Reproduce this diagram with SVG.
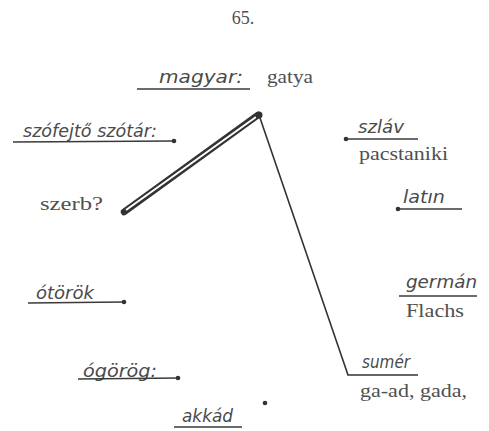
<svg xmlns="http://www.w3.org/2000/svg" width="489" height="431" viewBox="0 0 489 431">
<style>
.lab{font-family:"DejaVu Sans","Liberation Sans",sans-serif;font-style:italic;font-size:17px;fill:#4a4a4a}
.ser{font-family:"Liberation Serif",serif;font-size:18px;fill:#505050}
.ul{stroke:#3a3a3a;stroke-width:1.3;fill:none}
.dot{fill:#333}
</style>
<rect width="489" height="431" fill="#fff"/>
<text class="ser" x="243" y="24" text-anchor="middle" font-size="14">65.</text>
<g id="connectors">
<line x1="258" y1="115" x2="124" y2="212" stroke="#333" stroke-width="6.5" stroke-linecap="round"/>
<line x1="256" y1="117" x2="126" y2="210" stroke="#fff" stroke-width="2"/>
<polyline points="259,115 348,375 418,375" fill="none" stroke="#333" stroke-width="1.6"/>
<circle cx="259" cy="115" r="3.5" class="dot"/>
</g>
<g id="magyar">
<text class="lab" x="159" y="83" textLength="84" lengthAdjust="spacingAndGlyphs">magyar:</text>
<line class="ul" x1="137" y1="89" x2="250" y2="89" stroke-width="2.4"/>
<text class="ser" x="267" y="83" textLength="46" lengthAdjust="spacingAndGlyphs">gatya</text>
</g>
<g id="szofejto">
<text class="lab" x="23" y="137" textLength="134" lengthAdjust="spacingAndGlyphs">szófejtő szótár:</text>
<line class="ul" x1="13" y1="142" x2="174" y2="141"/>
<circle cx="174" cy="141" r="2.3" class="dot"/>
</g>
<g id="szerb">
<text class="ser" x="40" y="210" textLength="63" lengthAdjust="spacingAndGlyphs">szerb?</text>
</g>
<g id="szlav">
<text class="lab" x="358" y="133" textLength="46" lengthAdjust="spacingAndGlyphs">szláv</text>
<line class="ul" x1="346" y1="139" x2="418" y2="139"/>
<circle cx="346" cy="139" r="2.3" class="dot"/>
<text class="ser" x="359" y="160" textLength="89" lengthAdjust="spacingAndGlyphs">pacstaniki</text>
</g>
<g id="latin">
<text class="lab" x="403" y="203" textLength="42" lengthAdjust="spacingAndGlyphs">latın</text>
<line class="ul" x1="398" y1="209" x2="462" y2="209"/>
<circle cx="398" cy="209" r="2.3" class="dot"/>
</g>
<g id="german">
<text class="lab" x="406" y="288" textLength="71" lengthAdjust="spacingAndGlyphs">germán</text>
<line class="ul" x1="399" y1="296" x2="477" y2="296" stroke-width="1.6"/>
<text class="ser" x="406" y="317" textLength="58" lengthAdjust="spacingAndGlyphs">Flachs</text>
</g>
<g id="otorok">
<text class="lab" x="36" y="299" textLength="58" lengthAdjust="spacingAndGlyphs">ótörök</text>
<line class="ul" x1="28" y1="303" x2="124" y2="302"/>
<circle cx="124" cy="302" r="2.3" class="dot"/>
</g>
<g id="ogorog">
<text class="lab" x="83" y="377" textLength="74" lengthAdjust="spacingAndGlyphs">ógörög:</text>
<line class="ul" x1="78" y1="379" x2="178" y2="378"/>
<circle cx="178" cy="378" r="2.3" class="dot"/>
</g>
<g id="sumer">
<text class="lab" x="362" y="368" textLength="48" lengthAdjust="spacingAndGlyphs">sumér</text>
<text class="ser" x="360" y="397" textLength="107" lengthAdjust="spacingAndGlyphs">ga-ad, gada,</text>
</g>
<g id="akkad">
<text class="lab" x="182" y="422" textLength="51" lengthAdjust="spacingAndGlyphs">akkád</text>
<line class="ul" x1="174" y1="427" x2="242" y2="427" stroke-width="1.8"/>
<circle cx="265" cy="403" r="2.3" class="dot"/>
</g>
</svg>
